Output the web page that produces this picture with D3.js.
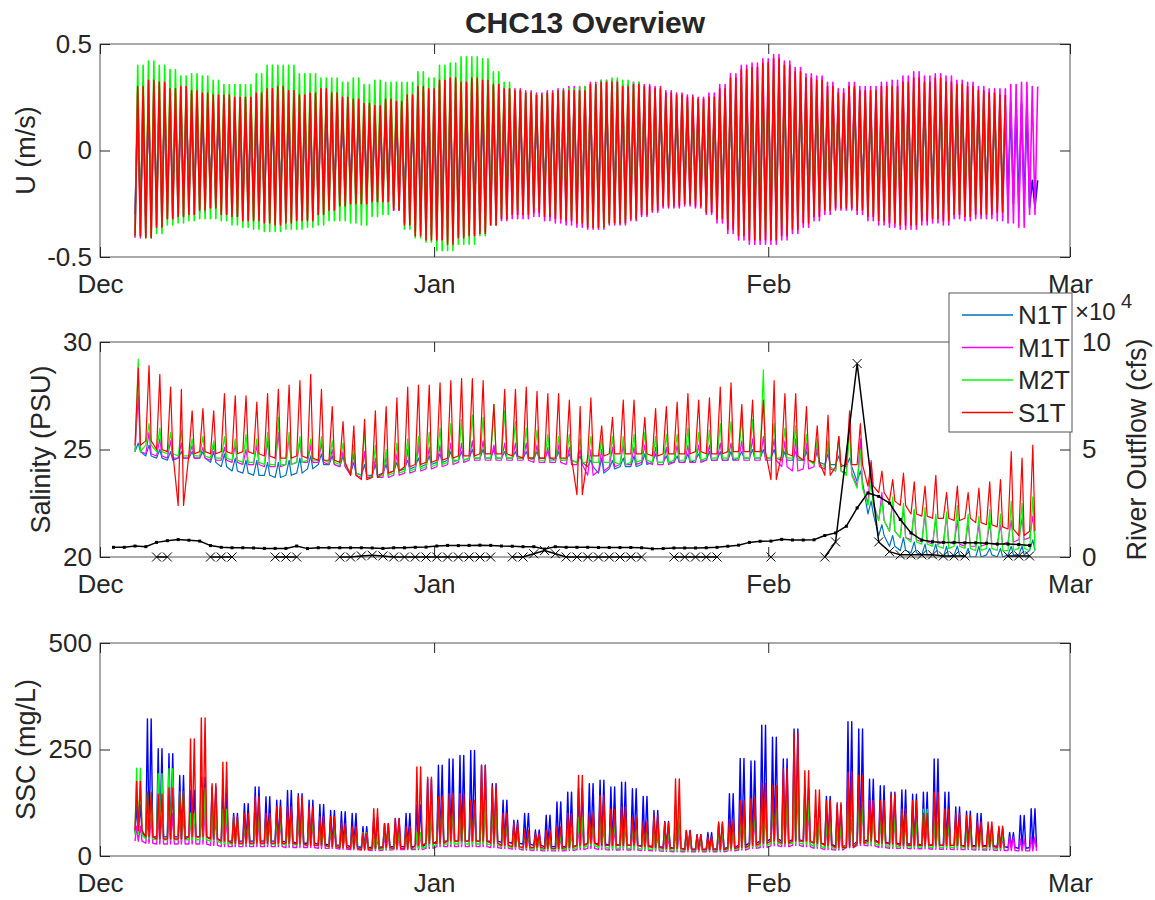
<!DOCTYPE html>
<html>
<head>
<meta charset="utf-8">
<script src="https://cdn.jsdelivr.net/npm/d3@7"></script>
<style>
  body { margin: 0; background: #fff; }
  text { font-family: "Liberation Sans", Arial, Helvetica, sans-serif; fill: #262626; }
</style>
</head>
<body>
<script>
// day offsets are counted from 1 Dec 2012 00:00 UTC
const monthLabels = ["Dec", "Jan", "Feb", "Mar"];
const monthTicks = [Date.UTC(2012, 11, 1), Date.UTC(2013, 0, 1), Date.UTC(2013, 1, 1), Date.UTC(2013, 2, 1)].map(t => new Date(t));
const seriesNames = ["N1T", "M1T", "M2T", "S1T"];

// ---- U (m/s): daily extremes, first value is day 3 ----
const uN1Tmax = [0.20,0.24,0.23,0.21,0.22,0.20,0.19,0.19,0.19,0.18,0.18,0.19,0.21,0.22,0.20,0.19,0.19,0.21,0.19,0.18,0.17,0.16,0.15,0.17,0.17,0.19,0.22,0.21,0.24,0.25,0.25,0.25,0.24,0.23,0.22,0.21,0.20,0.20,0.21,0.22,0.23,0.23,
  0.24,0.25,0.25,0.23,0.24,0.23,0.22,0.21,0.20,0.19,0.18,0.19,0.22,0.26,0.29,0.30,0.31,0.33,0.31,0.28,0.26,0.25,0.23,0.21,0.29,0.22,0.22,0.23,0.23,0.25,0.26,0.25,0.26,0.25,0.24,0.23,0.22,0.21,0.21,0.22,0.22,-0.14];
const uN1Tmin = [-0.30,-0.31,-0.27,-0.24,-0.23,-0.23,-0.21,-0.20,-0.23,-0.23,-0.25,-0.25,-0.26,-0.26,-0.26,-0.25,-0.25,-0.23,-0.21,-0.20,-0.19,-0.19,-0.18,-0.18,-0.21,-0.26,-0.30,-0.32,-0.32,-0.33,-0.31,-0.30,-0.29,-0.26,-0.24,-0.23,-0.23,-0.22,-0.23,-0.24,-0.25,-0.26,
  -0.27,-0.27,-0.26,-0.26,-0.24,-0.23,-0.21,-0.20,-0.20,-0.19,-0.20,-0.22,-0.24,-0.28,-0.30,-0.32,-0.32,-0.32,-0.30,-0.28,-0.26,-0.24,-0.21,-0.20,-0.21,-0.21,-0.23,-0.25,-0.26,-0.26,-0.26,-0.25,-0.24,-0.25,-0.23,-0.23,-0.23,-0.23,-0.24,-0.25,-0.26,-0.27];
const uM1Tmax = [0.28,0.31,0.30,0.27,0.28,0.26,0.26,0.25,0.25,0.24,0.24,0.26,0.27,0.28,0.27,0.25,0.26,0.27,0.26,0.24,0.23,0.21,0.20,0.23,0.22,0.25,0.28,0.28,0.31,0.32,0.31,0.32,0.31,0.30,0.29,0.29,0.28,0.27,0.28,0.29,0.30,0.30,
  0.32,0.33,0.33,0.31,0.32,0.31,0.30,0.28,0.27,0.26,0.25,0.27,0.31,0.36,0.40,0.41,0.43,0.45,0.42,0.39,0.36,0.35,0.32,0.29,0.32,0.30,0.30,0.32,0.33,0.35,0.37,0.35,0.36,0.35,0.33,0.32,0.30,0.29,0.29,0.31,0.32,0.30];
const uM1Tmin = [-0.41,-0.40,-0.35,-0.32,-0.31,-0.30,-0.29,-0.27,-0.30,-0.31,-0.32,-0.32,-0.33,-0.34,-0.33,-0.32,-0.32,-0.30,-0.28,-0.26,-0.25,-0.25,-0.24,-0.24,-0.28,-0.34,-0.38,-0.40,-0.41,-0.42,-0.40,-0.39,-0.38,-0.35,-0.33,-0.32,-0.32,-0.31,-0.33,-0.34,-0.35,-0.36,
  -0.37,-0.37,-0.35,-0.35,-0.33,-0.31,-0.29,-0.27,-0.27,-0.26,-0.27,-0.30,-0.34,-0.39,-0.42,-0.44,-0.44,-0.44,-0.42,-0.39,-0.36,-0.33,-0.30,-0.28,-0.28,-0.30,-0.33,-0.35,-0.36,-0.37,-0.37,-0.35,-0.34,-0.35,-0.32,-0.33,-0.32,-0.32,-0.33,-0.34,-0.36,-0.30];
const uM2Tmax = [0.40,0.42,0.40,0.38,0.35,0.36,0.35,0.33,0.31,0.31,0.31,0.36,0.40,0.40,0.40,0.36,0.36,0.34,0.34,0.32,0.34,0.31,0.33,0.32,0.32,0.32,0.37,0.34,0.40,0.41,0.44,0.44,0.43,0.37,0.32,
  0.28,0.27,0.26,0.27,0.28,0.29,0.30,0.31,0.33,0.34,0.33,0.32,
  0.27,0.26,0.24,0.23,0.22,0.21,0.22,0.25,0.29,0.32,0.33,0.35,0.36,0.34,0.32,0.29,0.28,0.26,0.24,0.26,0.25,0.25,0.26,0.27,0.28,0.29,0.28,0.29,0.28,0.27,0.26,0.25,0.24,0.23];
const uM2Tmin = [-0.40,-0.41,-0.39,-0.35,-0.34,-0.33,-0.32,-0.32,-0.33,-0.35,-0.36,-0.37,-0.38,-0.38,-0.37,-0.37,-0.36,-0.35,-0.33,-0.33,-0.34,-0.35,-0.31,-0.30,-0.27,-0.37,-0.41,-0.43,-0.47,-0.47,-0.44,-0.44,-0.40,-0.35,-0.31,
  -0.28,-0.28,-0.27,-0.29,-0.30,-0.31,-0.33,-0.35,-0.36,-0.34,-0.33,-0.31,
  -0.27,-0.25,-0.23,-0.23,-0.22,-0.23,-0.25,-0.28,-0.33,-0.36,-0.38,-0.38,-0.37,-0.35,-0.33,-0.30,-0.27,-0.25,-0.24,-0.25,-0.27,-0.29,-0.30,-0.31,-0.31,-0.30,-0.29,-0.30,-0.28,-0.28,-0.27,-0.27,-0.27,-0.26];
const uS1Tmax = [0.30,0.33,0.32,0.29,0.30,0.28,0.27,0.26,0.26,0.25,0.25,0.27,0.29,0.30,0.28,0.26,0.27,0.29,0.27,0.25,0.24,0.22,0.21,0.24,0.23,0.26,0.30,0.29,0.33,0.34,0.32,0.34,0.33,0.31,0.29,0.28,0.27,0.26,0.27,0.28,0.28,0.28,
  0.31,0.32,0.32,0.30,0.31,0.30,0.29,0.27,0.26,0.25,0.24,0.25,0.29,0.34,0.38,0.39,0.41,0.43,0.40,0.37,0.34,0.33,0.30,0.27,0.30,0.28,0.28,0.30,0.30,0.32,0.34,0.32,0.34,0.32,0.31,0.30,0.28,0.27,0.26];
const uS1Tmin = [-0.40,-0.41,-0.36,-0.32,-0.31,-0.30,-0.28,-0.27,-0.30,-0.31,-0.33,-0.33,-0.34,-0.35,-0.34,-0.33,-0.33,-0.30,-0.28,-0.26,-0.25,-0.25,-0.24,-0.24,-0.28,-0.35,-0.40,-0.42,-0.42,-0.44,-0.41,-0.40,-0.39,-0.35,-0.32,-0.30,-0.30,-0.29,-0.31,-0.32,-0.33,-0.34,
  -0.36,-0.36,-0.34,-0.34,-0.32,-0.30,-0.28,-0.26,-0.26,-0.25,-0.26,-0.29,-0.32,-0.37,-0.40,-0.42,-0.42,-0.42,-0.40,-0.37,-0.34,-0.31,-0.28,-0.27,-0.27,-0.28,-0.31,-0.33,-0.34,-0.35,-0.35,-0.33,-0.32,-0.33,-0.30,-0.31,-0.30,-0.30,-0.29];

// ---- Salinity (PSU): daily spike top and base, first value is day 3 ----
const salN1Tmax = [25.3,25.2,25.0,24.9,24.9,24.9,24.9,24.9,24.8,24.6,24.5,24.5,24.4,24.4,24.5,24.6,24.7,24.8,24.7,24.7,24.4,24.3,24.3,24.3,24.4,24.5,24.6,24.7,24.8,24.9,24.9,25.0,25.0,25.0,24.9,24.9,24.9,24.9,24.9,24.9,24.8,24.7,
  24.5,24.6,24.5,24.6,24.7,24.8,24.8,24.7,24.7,24.8,24.8,24.9,24.9,24.9,24.9,25.0,25.0,25.0,24.9,24.9,24.9,24.9,24.8,24.7,24.6,24.0,22.6,21.5,21.0,20.9,20.7,20.6,20.6,20.5,20.5,20.4,20.5,20.4,20.4,20.5,20.5,20.8];
const salN1Tmin = [24.9,24.7,24.6,24.5,24.6,24.6,24.6,24.4,24.2,24.0,23.9,23.8,23.8,23.7,23.8,23.9,24.1,24.3,24.3,24.2,23.9,23.8,23.8,23.9,24.0,24.1,24.2,24.3,24.4,24.5,24.5,24.6,24.6,24.6,24.6,24.6,24.6,24.6,24.6,24.5,24.5,24.4,
  24.2,23.9,24.1,24.2,24.2,24.3,24.4,24.4,24.4,24.4,24.5,24.5,24.5,24.5,24.6,24.6,24.6,24.6,24.5,24.5,24.5,24.4,24.3,24.3,24.2,23.5,22.0,21.0,20.5,20.3,20.2,20.1,20.1,20.0,20.1,20.0,20.0,20.1,20.0,20.1,20.1,20.3];
const salM1Tmax = [27.5,25.8,25.5,25.4,25.3,25.2,25.1,25.2,25.1,25.2,25.0,25.2,25.4,25.8,25.6,25.4,25.2,25.3,25.0,24.9,24.8,24.9,24.6,24.7,24.8,25.0,25.2,25.1,25.2,25.3,25.3,25.4,25.4,25.2,25.3,25.3,25.3,25.2,25.1,25.2,25.1,25.0,
  25.0,25.0,25.1,25.2,25.1,25.2,25.1,25.1,25.2,25.2,25.2,25.2,25.3,25.3,25.4,25.5,25.6,25.5,25.4,25.5,25.3,25.2,25.2,25.6,26.3,25.5,24.5,23.0,22.6,22.3,22.2,22.0,21.8,21.9,21.7,21.6,21.5,21.6,21.5,21.7,21.8,21.9];
const salM1Tmin = [24.9,24.8,24.7,24.6,24.6,24.6,24.6,24.5,24.5,24.4,24.3,24.3,24.2,24.2,24.3,24.4,24.4,24.4,24.3,24.2,23.8,23.7,23.7,23.7,23.8,23.9,24.0,24.1,24.2,24.3,24.4,24.5,24.5,24.5,24.5,24.5,24.5,24.4,24.4,24.4,24.3,24.3,
  23.8,24.0,24.2,24.3,24.3,24.4,24.3,24.3,24.4,24.4,24.4,24.5,24.5,24.5,24.5,24.5,24.5,24.5,24.2,24.0,24.1,24.2,24.1,24.0,23.9,23.3,22.5,21.7,21.2,20.9,20.8,20.7,20.6,20.7,20.6,20.5,20.5,20.6,20.6,20.7,20.8,20.9];
const salM2Tmax = [29.2,26.2,26.0,25.8,25.9,25.5,25.6,25.4,25.6,25.5,25.7,25.5,25.8,26.5,25.8,25.6,25.5,25.6,25.4,25.3,25.2,26.0,25.2,25.0,25.3,25.5,25.6,25.8,26.0,26.2,26.4,26.6,26.5,27.1,26.8,26.3,26.0,25.9,25.7,25.6,25.7,25.5,
  25.6,25.5,25.6,25.6,25.7,25.8,25.6,25.7,25.7,26.0,25.8,25.9,26.2,26.3,26.6,26.4,28.7,26.2,26.0,26.1,25.7,25.5,25.4,25.6,26.0,25.0,23.5,22.6,22.8,22.5,22.2,22.3,22.0,22.1,22.4,22.0,21.9,22.2,22.0,22.6,22.5,22.8];
const salM2Tmin = [24.9,25.2,24.9,24.8,24.7,24.7,24.7,24.6,24.6,24.5,24.4,24.4,24.3,24.3,24.3,24.4,24.5,24.5,24.4,24.3,23.9,23.8,23.7,23.8,23.9,24.0,24.1,24.2,24.3,24.4,24.5,24.6,24.6,24.6,24.6,24.6,24.6,24.5,24.5,24.5,24.5,24.4,
  24.4,24.4,24.4,24.3,24.4,24.5,24.4,24.4,24.5,24.5,24.5,24.6,24.6,24.6,24.6,24.6,24.6,24.6,24.6,24.6,24.5,24.3,24.2,24.0,23.8,23.2,22.4,21.7,21.2,20.9,20.7,20.6,20.5,20.4,20.5,20.4,20.3,20.4,20.3,20.3,20.4,20.3];
const salS1Tmax = [28.8,28.9,28.5,27.9,27.8,26.8,26.9,26.8,27.6,27.5,27.5,27.2,27.6,27.8,28.0,28.2,28.5,27.8,27.0,26.3,26.1,26.4,26.8,27.0,27.4,27.9,28.0,28.0,28.1,28.2,28.3,28.3,28.2,27.1,27.8,27.8,27.9,27.7,27.6,27.6,27.3,27.0,
  27.4,26.1,26.5,27.3,27.3,26.5,26.9,27.0,27.2,27.6,27.3,27.4,27.9,28.1,27.1,27.3,27.3,28.2,27.6,27.6,27.0,26.1,26.6,25.6,26.8,26.2,24.4,24.0,23.6,23.9,23.5,23.3,23.8,23.0,23.3,23.0,23.2,23.5,23.6,24.9,24.6,25.2];
const salS1Tmin = [25.2,25.4,25.0,24.9,22.4,24.8,24.9,24.8,24.9,24.8,24.9,24.8,24.7,24.6,24.6,24.7,24.6,24.5,24.5,24.4,23.8,23.6,23.7,23.9,24.0,24.2,24.3,24.4,24.5,24.6,24.7,24.7,24.8,24.8,24.8,24.7,24.6,24.6,24.6,24.6,24.6,22.9,
  24.7,24.7,24.8,24.8,24.8,24.8,24.7,24.8,24.8,24.8,24.9,24.8,24.8,24.9,24.9,24.9,24.9,23.6,24.8,24.7,24.5,24.4,23.8,24.2,24.3,24.3,23.3,23.0,22.6,22.4,22.0,21.9,21.8,21.8,21.7,21.8,21.6,21.5,21.4,21.3,21.0,21.2];

// ---- River outflow (x10^4 cfs) ----
// daily flow, first value is day 1
const flowDaily = [0.45,0.45,0.51,0.48,0.68,0.76,0.81,0.78,0.74,0.53,0.45,0.43,0.43,0.42,0.40,0.40,0.40,0.51,0.39,0.43,0.43,0.43,0.43,0.43,0.42,0.40,0.43,0.43,0.45,0.46,0.51,0.54,0.53,0.54,0.55,0.54,0.51,0.50,0.48,0.48,0.37,0.48,0.45,0.45,
  0.45,0.44,0.44,0.44,0.44,0.43,0.38,0.39,0.42,0.42,0.42,0.43,0.45,0.50,0.55,0.68,0.73,0.74,0.82,0.79,0.79,0.80,1.00,1.12,1.43,2.28,2.98,2.82,2.51,1.74,1.12,0.79,0.71,0.68,0.68,0.66,0.66,0.64,0.60,0.60,0.58,0.54];
// spot flow gauge, null = gap
const flowSpotDays = [5,6,null,10,11,12,null,16,17,18,null,22,23,24,25,26,27,28,29,30,31,32,33,34,35,36,null,38,39,40,41,42,43,44,45,46,47,48,49,50,null,53,54,55,56,57,null,62,null,67,68,70,72,73,74,75,76,77,78,79,80,null,84,85,86];
const flowSpotVals = [0,0,null,0,0,0,null,0,0,0,null,0,0,0.05,0.08,0.05,0,0,0,0,0,0,0,0,0,0,null,0,0,0.15,0.3,0.15,0,0,0,0,0,0,0,0,null,0,0,0,0,0,null,0,null,0,0.7,9.0,0.7,0.25,0.1,0.1,0.1,0.1,0.05,0.05,0.05,null,0.05,0.05,0.05];

// ---- SSC (mg/L): daily spike top and base, first value is day 3 ----
const sscN1Tmax = [120,322,252,240,189,154,185,162,150,100,123,162,139,131,154,146,131,121,107,104,100,69,90,76,88,100,120,181,213,228,236,248,213,170,131,84,100,61,96,127,150,160,
  170,178,162,173,158,140,107,81,100,60,50,55,76,146,229,223,307,279,228,298,160,110,140,120,315,298,180,165,150,155,145,150,228,150,115,105,100,70,65,55,95,111];
const sscN1Tmin = [55,45,45,45,45,45,45,40,35,35,35,35,35,35,33,30,30,28,26,25,22,20,20,22,22,22,22,28,35,35,35,35,35,35,32,30,28,25,22,22,22,25,
  30,28,26,26,25,24,22,20,18,16,16,16,17,20,25,30,35,40,35,38,35,30,28,22,25,35,38,32,30,28,28,26,26,25,25,24,24,24,22,20,18,20];
const sscM1Tmax = [70,90,95,100,95,100,105,90,90,70,70,80,80,80,80,80,75,65,60,55,50,45,40,50,45,50,50,90,110,100,105,110,120,100,70,55,45,40,40,45,55,70,
  65,70,65,70,60,55,50,45,60,40,35,35,50,55,80,85,100,110,120,150,110,80,70,60,85,120,130,100,85,85,80,75,80,75,70,65,60,50,45,45,40,45];
const sscM1Tmin = [35,30,28,28,28,28,28,25,22,22,22,22,22,22,20,20,20,18,18,16,15,14,13,14,15,15,15,18,22,22,22,22,22,20,18,16,14,13,12,12,13,15,
  18,15,14,14,14,13,12,11,10,10,10,10,10,12,14,18,20,24,22,25,22,18,15,14,20,25,24,20,18,18,17,17,16,16,15,15,14,14,13,13,12,12];
const sscM2Tmax = [206,150,193,205,150,100,160,120,110,85,80,100,90,90,90,100,90,75,70,65,60,55,50,70,55,60,55,120,130,110,120,125,130,120,80,60,50,45,45,50,60,90,
  80,100,85,90,75,65,70,60,120,50,40,40,60,65,90,100,120,130,140,180,130,90,80,70,140,120,100,90,90,100,80,110,80,80,70,65,60,55,50];
const sscM2Tmin = [50,40,38,38,38,38,38,35,30,28,28,28,28,28,26,26,25,24,22,20,18,17,16,17,18,18,18,22,28,28,28,28,28,26,22,20,18,16,15,15,16,20,
  25,20,18,18,18,16,15,14,13,13,13,13,13,15,18,22,25,30,28,30,28,22,20,18,25,30,28,25,22,22,21,21,20,20,19,19,18,18,17];
const sscS1Tmax = [175,150,145,160,150,275,324,170,220,92,100,139,100,115,115,139,115,92,92,76,69,53,111,76,88,69,209,185,139,146,146,131,213,162,100,76,60,53,60,69,100,189,
  100,142,110,115,90,80,95,78,181,60,50,45,80,85,130,135,170,165,205,288,200,155,130,125,197,189,130,130,145,110,130,100,150,110,100,95,80,80,70];
const sscS1Tmin = [60,45,40,40,40,45,45,40,35,30,30,30,30,30,30,28,25,25,22,20,18,15,18,20,18,18,25,30,30,35,35,35,35,30,25,22,20,20,18,18,20,25,
  30,25,25,25,25,22,20,18,18,15,15,15,15,18,20,25,30,35,30,35,35,30,25,20,20,30,35,30,28,25,25,25,25,25,25,22,22,22,20];

const firstDay = 3;

// ---------------------------------------------------------------
const W = 1155, H = 900;
const left = 100, right = 1070;
const font = 26;
const labelFont = 27;

const svg = d3.select("body").append("svg").attr("width", W).attr("height", H);

const t0 = Date.UTC(2012, 11, 1);
const dayToDate = d => new Date(t0 + d * 864e5);
const x = d3.scaleUtc().domain([monthTicks[0], monthTicks[3]]).range([left, right]);

// shape of one day of record
function tidePts(mx, mn) {
  const pts = [];
  mx.forEach((v, i) => {
    const d = firstDay + i;
    pts.push([d + 0.25, mn[i]], [d + 0.5, v], [d + 0.75, mn[i]], [d + 1, v]);
  });
  return pts;
}
function salPts(mx, mn) {
  const pts = [];
  mx.forEach((v, i) => {
    const d = firstDay + i;
    pts.push([d + 0.25, mn[i]], [d + 0.55, v], [d + 0.75, mn[i]]);
  });
  return pts;
}
function sscPts(mx, mn) {
  const pts = [];
  mx.forEach((v, i) => {
    const d = firstDay + i;
    pts.push([d + 0.25, mn[i]], [d + 0.4, v], [d + 0.55, mn[i]], [d + 0.75, v], [d + 0.9, mn[i]]);
  });
  return pts;
}

const panels = [
  { top: 44, bottom: 257, domain: [-0.5, 0.5], ticks: [-0.5, 0, 0.5], tickLabels: ["-0.5", "0", "0.5"], width: 1.6,
    label: "U (m/s)", labelX: 26, colors: ["#0000ff", "#ff00ff", "#00ff00", "#ff0000"],
    series: [tidePts(uN1Tmax, uN1Tmin), tidePts(uM1Tmax, uM1Tmin), tidePts(uM2Tmax, uM2Tmin), tidePts(uS1Tmax, uS1Tmin)] },
  { top: 342, bottom: 557, domain: [20, 30], ticks: [20, 25, 30], tickLabels: ["20", "25", "30"], width: 1.2,
    label: "Salinity (PSU)", labelX: 41, colors: ["#0072bd", "#ff00ff", "#00ff00", "#ff0000"],
    series: [salPts(salN1Tmax, salN1Tmin), salPts(salM1Tmax, salM1Tmin), salPts(salM2Tmax, salM2Tmin), salPts(salS1Tmax, salS1Tmin)] },
  { top: 643, bottom: 856, domain: [0, 500], ticks: [0, 250, 500], tickLabels: ["0", "250", "500"], width: 1.4,
    label: "SSC (mg/L)", labelX: 26, colors: ["#0000ff", "#ff00ff", "#00ff00", "#ff0000"],
    series: [sscPts(sscN1Tmax, sscN1Tmin), sscPts(sscM1Tmax, sscM1Tmin), sscPts(sscM2Tmax, sscM2Tmin), sscPts(sscS1Tmax, sscS1Tmin)] }
];

function styleAxis(g) {
  g.select(".domain").remove();
  g.selectAll(".tick line").attr("stroke", "#262626");
  g.selectAll(".tick text").style("font-size", font + "px").attr("fill", "#262626");
}

panels.forEach((p, pi) => {
  const y = d3.scaleLinear().domain(p.domain).range([p.bottom, p.top]);
  const g = svg.append("g");

  g.append("clipPath").attr("id", "clip" + pi)
    .append("rect").attr("x", left).attr("y", p.top).attr("width", right - left).attr("height", p.bottom - p.top);

  const line = d3.line().x(d => x(dayToDate(d[0]))).y(d => y(d[1]));
  const plot = g.append("g").attr("clip-path", `url(#clip${pi})`);
  p.series.forEach((pts, si) => {
    plot.append("path").datum(pts)
      .attr("fill", "none").attr("stroke", p.colors[si]).attr("stroke-width", p.width)
      .attr("stroke-linejoin", "round").attr("d", line);
  });

  g.append("rect").attr("x", left).attr("y", p.top).attr("width", right - left).attr("height", p.bottom - p.top)
    .attr("fill", "none").attr("stroke", "#555").attr("stroke-width", 1);

  if (pi === 1) {
    const yr = d3.scaleLinear().domain([0, 10]).range([p.bottom, p.top]);
    const fline = d3.line().defined(d => d[1] !== null).x(d => x(dayToDate(d[0] + 0.25))).y(d => yr(d[1]));
    const daily = flowDaily.map((v, i) => [1 + i, v]);
    const spot = flowSpotDays.map((d, i) => [d, flowSpotVals[i]]);
    const fg = g.append("g");
    fg.append("path").datum(daily).attr("fill", "none").attr("stroke", "#000").attr("stroke-width", 1.5).attr("d", fline);
    fg.selectAll("rect.dot").data(daily).join("rect").attr("class", "dot")
      .attr("x", d => x(dayToDate(d[0] + 0.25)) - 1.5).attr("y", d => yr(d[1]) - 1.5)
      .attr("width", 3).attr("height", 3).attr("fill", "#000");
    fg.append("path").datum(spot).attr("fill", "none").attr("stroke", "#000").attr("stroke-width", 1.5).attr("d", fline);
    fg.selectAll("path.xm").data(spot.filter(d => d[0] !== null)).join("path").attr("class", "xm")
      .attr("transform", d => `translate(${x(dayToDate(d[0] + 0.25))},${yr(d[1])})`)
      .attr("d", "M-4.5,-4.5L4.5,4.5M-4.5,4.5L4.5,-4.5").attr("stroke", "#000").attr("stroke-width", 1).attr("fill", "none");

    g.append("g").attr("transform", `translate(${right},0)`)
      .call(d3.axisRight(yr).tickValues([0, 5, 10]).tickFormat(d3.format("d")).tickSize(-10).tickPadding(12))
      .call(styleAxis);
    g.append("text").attr("transform", `translate(1137,${(p.top + p.bottom) / 2}) rotate(-90)`)
      .attr("text-anchor", "middle").attr("dy", "0.35em").style("font-size", labelFont + "px").text("River Outflow (cfs)");
    g.append("text").attr("x", 1075).attr("y", 320).style("font-size", "24px").text("\u00d710");
    g.append("text").attr("x", 1121).attr("y", 308).style("font-size", "20px").text("4");
  } else {
    g.append("g").attr("transform", `translate(${right},0)`)
      .call(d3.axisRight(y).tickValues(p.ticks).tickFormat("").tickSize(-10))
      .call(styleAxis);
  }

  g.append("g").attr("transform", `translate(0,${p.bottom})`)
    .call(d3.axisBottom(x).tickValues(monthTicks).tickFormat((d, i) => monthLabels[i]).tickSize(-10).tickPadding(18))
    .call(styleAxis);
  g.append("g").attr("transform", `translate(0,${p.top})`)
    .call(d3.axisTop(x).tickValues(monthTicks).tickFormat("").tickSize(-10))
    .call(styleAxis);
  g.append("g").attr("transform", `translate(${left},0)`)
    .call(d3.axisLeft(y).tickValues(p.ticks).tickFormat((d, i) => p.tickLabels[i]).tickSize(-10).tickPadding(8))
    .call(styleAxis);

  g.append("text").attr("transform", `translate(${p.labelX},${(p.top + p.bottom) / 2}) rotate(-90)`)
    .attr("text-anchor", "middle").attr("dy", "0.35em").style("font-size", labelFont + "px").text(p.label);
});

svg.append("text").attr("x", (left + right) / 2).attr("y", 33).attr("text-anchor", "middle")
  .style("font-size", "30px").style("font-weight", "bold").attr("fill", "#000").text("CHC13 Overview");

// legend
const legendColors = ["#0072bd", "#ff00ff", "#00ff00", "#ff0000"];
const lg = svg.append("g");
lg.append("rect").attr("x", 949).attr("y", 293).attr("width", 123).attr("height", 139)
  .attr("fill", "#fff").attr("stroke", "#555").attr("stroke-width", 1);
seriesNames.forEach((name, i) => {
  const cy = 315 + i * 32.5;
  lg.append("line").attr("x1", 962).attr("x2", 1013).attr("y1", cy).attr("y2", cy)
    .attr("stroke", legendColors[i]).attr("stroke-width", 1.3);
  lg.append("text").attr("x", 1018).attr("y", cy).attr("dy", "0.35em").style("font-size", font + "px").text(name);
});
</script>
</body>
</html>
